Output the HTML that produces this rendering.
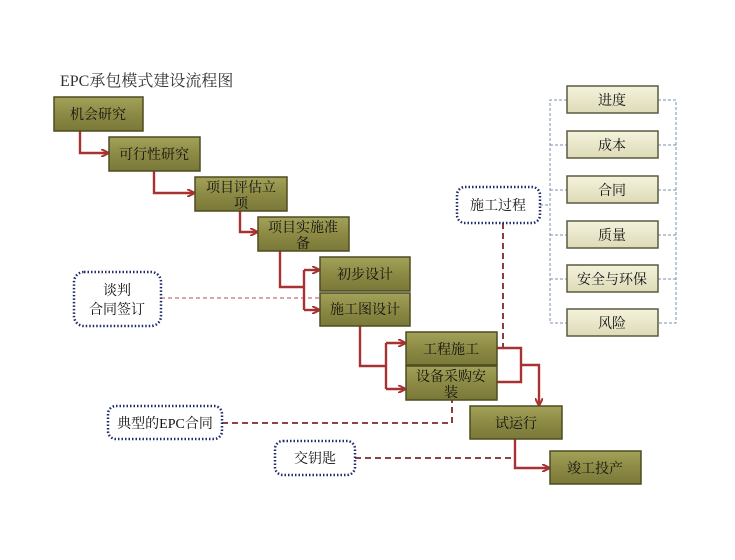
<!DOCTYPE html>
<html><head><meta charset="utf-8"><style>
body{margin:0;background:#fff;width:735px;height:555px;overflow:hidden}
svg text{font-family:"Liberation Serif","Noto Serif CJK SC",serif;}
</style></head><body>
<svg width="735" height="555" viewBox="0 0 735 555" xmlns="http://www.w3.org/2000/svg">
<defs>
<linearGradient id="g" x1="0" y1="0" x2="0" y2="1"><stop offset="0" stop-color="#a3a25a"/><stop offset="0.5" stop-color="#8c8a44"/><stop offset="1" stop-color="#7a7838"/></linearGradient>
<linearGradient id="l" x1="0" y1="0" x2="0" y2="1"><stop offset="0" stop-color="#f4f2dc"/><stop offset="1" stop-color="#dedbb8"/></linearGradient>
<marker id="a" markerWidth="8" markerHeight="8" refX="7" refY="4" orient="auto" markerUnits="userSpaceOnUse"><path d="M0,0 L8,4 L0,8" fill="none" stroke="#a83232" stroke-width="2"/></marker>
</defs>
<text x="60" y="86" font-size="16" fill="#333">EPC承包模式建设流程图</text>
<g stroke="#7a8fb0" stroke-width="1" stroke-dasharray="3,2" fill="none">
<path d="M567,100 H550 V323 H567"/><path d="M550,145 H567 M550,190 H567 M550,235 H567 M550,279 H567"/>
<path d="M658,100 H676 V323 H658 M658,145 H676 M658,190 H676 M658,235 H676 M658,279 H676"/>
<path d="M540,205 H550"/>
</g>
<g stroke="#7a2a2a" stroke-width="1.8" stroke-dasharray="6,4" fill="none">
<path d="M503,223 V350"/><path d="M222,423 H452 V400"/><path d="M355,458 H515"/>
</g>
<path d="M161,298 H320" stroke="#b05050" stroke-width="1" stroke-dasharray="4,3" fill="none"/>
<g stroke="#a83232" stroke-width="2.4" fill="none">
<path d="M80,131 V153 H108" marker-end="url(#a)"/>
<path d="M154,171 V193 H194" marker-end="url(#a)"/>
<path d="M240,211 V232 H257" marker-end="url(#a)"/>
<path d="M280,251 V287 H303"/>
<path d="M304,270 V310"/><path d="M304,270 H319" marker-end="url(#a)"/><path d="M304,310 H319" marker-end="url(#a)"/>
<path d="M360,326 V366 H386"/>
<path d="M386,343 V389"/><path d="M386,343 H405" marker-end="url(#a)"/><path d="M386,389 H405" marker-end="url(#a)"/>
<path d="M497,348 H521 V382 H497"/>
<path d="M521,365 H539 V405" marker-end="url(#a)"/>
<path d="M515,439 V468 H549" marker-end="url(#a)"/>
</g>
<g stroke="#4d4c20" stroke-width="1.5" fill="url(#g)">
<rect x="54" y="97" width="89" height="34"/><rect x="109" y="137" width="91" height="34"/>
<rect x="195" y="177" width="92" height="34"/><rect x="258" y="217" width="91" height="34"/>
<rect x="320" y="257" width="90" height="34"/><rect x="320" y="293" width="90" height="33"/>
<rect x="406" y="332" width="91" height="33"/><rect x="406" y="366" width="91" height="34"/>
<rect x="470" y="406" width="92" height="33"/><rect x="550" y="451" width="91" height="33"/>
</g>
<g stroke="#5a5a40" stroke-width="1.5" fill="url(#l)">
<rect x="567" y="86" width="91" height="27"/><rect x="567" y="131" width="91" height="27"/>
<rect x="567" y="176" width="91" height="27"/><rect x="567" y="221" width="91" height="27"/>
<rect x="567" y="265" width="91" height="27"/><rect x="567" y="309" width="91" height="27"/>
</g>
<g stroke="#1e2a6a" stroke-width="2.5" stroke-dasharray="1.5,2" fill="#fff">
<rect x="457" y="187" width="83" height="36" rx="8"/>
<rect x="74" y="272" width="87" height="54" rx="10"/>
<rect x="108" y="406" width="114" height="33" rx="8"/>
<rect x="275" y="441" width="80" height="34" rx="8"/>
</g>
<g font-size="14" fill="#111" text-anchor="middle">
<text x="98" y="119">机会研究</text><text x="154" y="159">可行性研究</text>
<text x="241" y="192">项目评估立</text><text x="241" y="208">项</text>
<text x="303" y="232">项目实施准</text><text x="303" y="248">备</text>
<text x="365" y="279">初步设计</text><text x="365" y="314">施工图设计</text>
<text x="451" y="354">工程施工</text><text x="451" y="381">设备采购安</text><text x="451" y="397">装</text>
<text x="516" y="428">试运行</text><text x="595" y="473">竣工投产</text>
<text x="612" y="105">进度</text><text x="612" y="150">成本</text><text x="612" y="195">合同</text>
<text x="612" y="240">质量</text><text x="612" y="284">安全与环保</text><text x="612" y="328">风险</text>
<text x="498" y="210">施工过程</text>
<text x="117" y="295">谈判</text><text x="117" y="314">合同签订</text>
<text x="165" y="428">典型的EPC合同</text><text x="315" y="463">交钥匙</text>
</g>
</svg>
</body></html>
